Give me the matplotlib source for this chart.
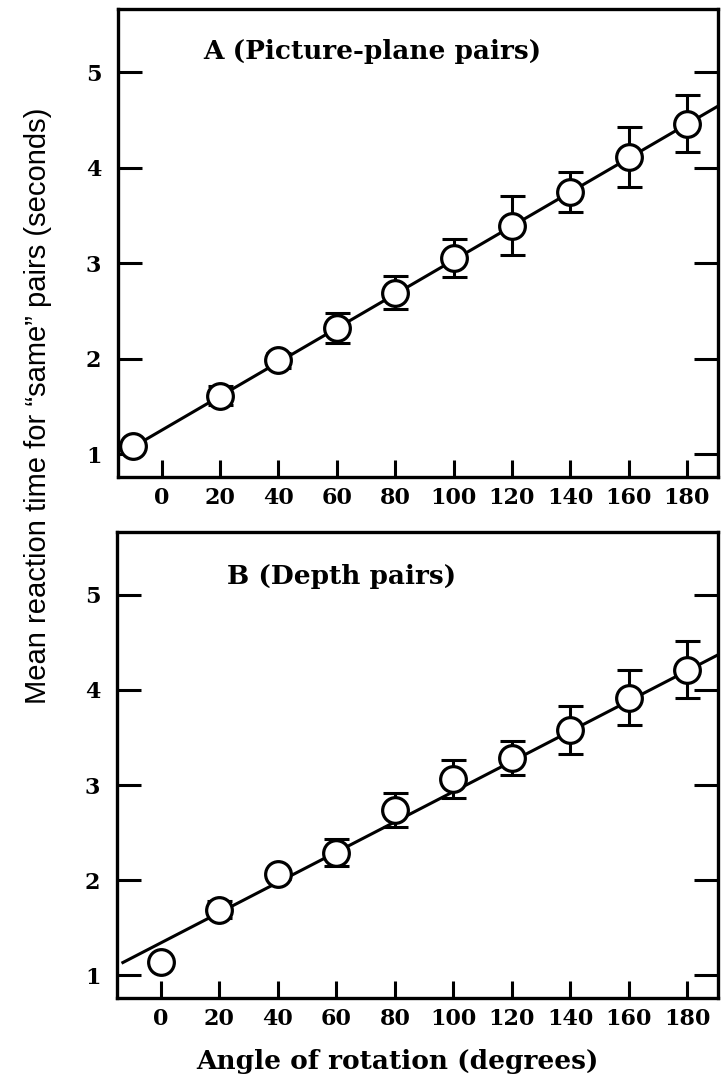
import numpy as np
import matplotlib
matplotlib.use('Agg')
import matplotlib.pyplot as plt

# panel A (picture-plane pairs)
angles_a = [-10, 20, 40, 60, 80, 100, 120, 140, 160, 180]
rt_a = [1.08, 1.61, 1.98, 2.32, 2.69, 3.05, 3.39, 3.74, 4.11, 4.46]
err_a = [0.0, 0.10, 0.08, 0.16, 0.17, 0.20, 0.31, 0.21, 0.31, 0.30]
fit_a = (1.25, 0.0178)       # intercept, slope
span_a = (-10, 191)

# panel B (depth pairs)
angles_b = [0, 20, 40, 60, 80, 100, 120, 140, 160, 180]
rt_b = [1.14, 1.69, 2.06, 2.29, 2.74, 3.06, 3.28, 3.58, 3.92, 4.21]
err_b = [0.0, 0.09, 0.05, 0.14, 0.18, 0.20, 0.18, 0.25, 0.29, 0.30]
fit_b = (1.34, 0.0159)
span_b = (-13, 191)

xticks = list(range(0, 181, 20))
yticks = [1, 2, 3, 4, 5]
titles = ['A (Picture-plane pairs)', 'B (Depth pairs)']

serif = ['DejaVu Serif']
narrow = ['Liberation Sans Narrow', 'Liberation Sans', 'DejaVu Sans']


def draw_panel(ax, x, y, err, fit, span, title, title_pos):
    xs = np.array(span, dtype=float)
    ax.plot(xs, fit[0] + fit[1] * xs, color='black', lw=2.2, zorder=1)
    ax.errorbar(x, y, yerr=err, fmt='none', ecolor='black', elinewidth=2.2,
                capsize=9, capthick=2.2, zorder=2)
    ax.plot(x, y, 'o', ms=18.5, mfc='white', mec='black', mew=2.3, zorder=3)

    ax.set_xlim(-15, 190.6)
    ax.set_ylim(0.76, 5.66)
    ax.set_xticks(xticks)
    ax.set_yticks(yticks)
    ax.tick_params(axis='x', direction='in', length=12, width=2.2, pad=7,
                   top=False, labelsize=16)
    ax.tick_params(axis='y', direction='in', length=17, width=2.2, pad=12,
                   right=True, labelsize=16)
    for lab in ax.get_xticklabels() + ax.get_yticklabels():
        lab.set_family(serif)
        lab.set_fontweight('bold')
    for sp in ax.spines.values():
        sp.set_linewidth(2.4)
    ax.text(title_pos[0], title_pos[1], title, transform=ax.transAxes,
            ha='left', va='center', fontsize=19, fontweight='bold', family=serif)


fig = plt.figure(figsize=(7.21, 10.86), dpi=100)
ax_a = fig.add_axes([0.1637, 0.5608, 0.832, 0.4309])
ax_b = fig.add_axes([0.1623, 0.0810, 0.834, 0.4291])

draw_panel(ax_a, angles_a, rt_a, err_a, fit_a, span_a, titles[0], (0.142, 0.91))
draw_panel(ax_b, angles_b, rt_b, err_b, fit_b, span_b, titles[1], (0.183, 0.905))

fig.text(0.053, 1 - 406 / 1086, 'Mean reaction time for \u201csame\u201d pairs (seconds)',
         rotation=90, ha='center', va='center', fontsize=21, family=narrow)
fig.text(397 / 721, 1 - 1062 / 1086, 'Angle of rotation (degrees)',
         ha='center', va='center', fontsize=19, fontweight='bold', family=serif)

fig.savefig('out.png', dpi=100)
